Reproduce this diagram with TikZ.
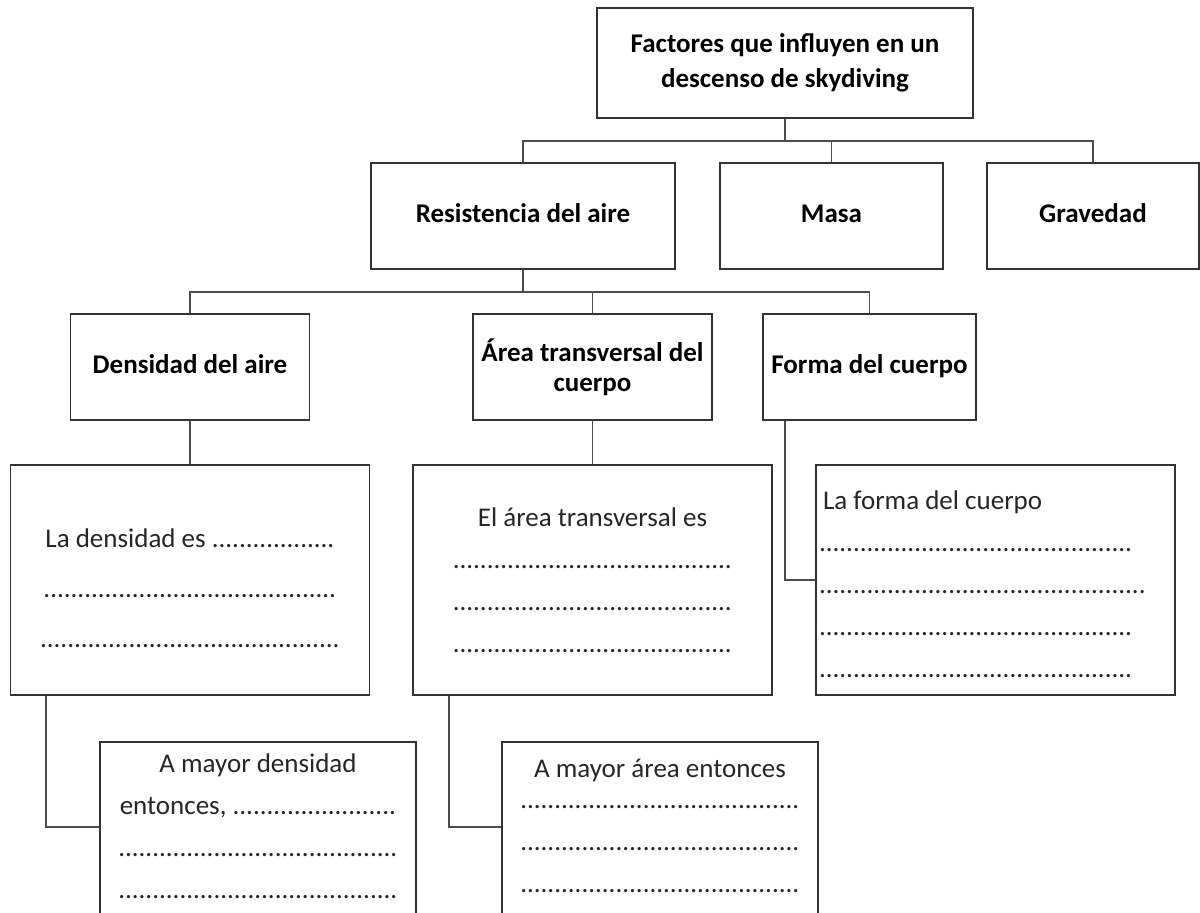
\documentclass[tikz,border=0pt]{standalone}
\usepackage{fontspec}
\setmainfont{Carlito}
\usetikzlibrary{calc}

% a row of dots for the blanks
\newcommand{\puntos}[1]{\foreach \i in {1,...,#1}{.}}

\begin{document}
\begin{tikzpicture}[
	x=0.5pt, y=-0.5pt,
	% Style for the heading boxes
	headbox/.style={
		draw=black!80, line width=0.8pt, text=black,
		font=\bfseries\fontsize{13.5}{17.5}\selectfont,
		align=center, inner sep=2pt, minimum height=53pt
	},
	% one-line headings share the same baseline
	oneline/.style={text height=9.5pt, text depth=2.5pt},
	% Style for the boxes with blanks to fill
	fillbox/.style={
		draw=black!80, line width=0.8pt, text=black!85,
		font=\fontsize{13.5}{21}\selectfont,
		align=center, inner sep=2pt, minimum width=179.5pt
	},
	% Connector lines
	link/.style={draw=black!70, line width=0.8pt}
	]
	
	\useasboundingbox (0,0) rectangle (1200,913);
	\clip (0,0) rectangle (1200,913);
	
	% ==============================================================================
	% TOP AND SECOND LEVEL
	% ==============================================================================
	\node[headbox, minimum width=188pt, minimum height=55pt] (top) at (785,63) {Factores que influyen en un\\descenso de skydiving};
	
	\node[headbox, oneline, minimum width=152pt] (res) at (523,216) {Resistencia del aire};
	\node[headbox, oneline, minimum width=111.5pt] (masa) at (831.5,216) {Masa};
	\node[headbox, oneline, minimum width=106pt] (grav) at (1093,216) {Gravedad};
	
	\coordinate (j1) at (785,141);
	\draw[link] (top.south) -- (j1);
	\draw[link] (res.north) |- (grav.north |- j1) -- (grav.north);
	\draw[link] (masa.north) -- (masa.north |- j1);
	
	% ==============================================================================
	% THIRD LEVEL: parts of the air resistance
	% ==============================================================================
	\node[headbox, oneline, minimum width=119.5pt] (dens) at (190,367) {Densidad del aire};
	\node[headbox, minimum width=119.5pt] (area) at (592.5,367) {Área transversal del\\[-2.5pt]cuerpo};
	\node[headbox, oneline, minimum width=106.5pt] (forma) at (869.5,367) {Forma del cuerpo};
	
	\coordinate (j2) at (523,292);
	\draw[link] (res.south) -- (j2);
	\draw[link] (dens.north) |- (forma.north |- j2) -- (forma.north);
	\draw[link] (area.north) -- (area.north |- j2);
	
	% ==============================================================================
	% BOXES TO FILL
	% ==============================================================================
	\node[fillbox, minimum height=115pt] (densT) at (190,580) {
		\rule{0pt}{17.5pt}La densidad es \puntos{18}\\[4pt]
		\puntos{43}\\[4pt]
		\puntos{44}
	};
	\node[fillbox, minimum height=115pt] (areaT) at (592.5,580) {
		El área transversal es\\
		\puntos{41}\\
		\puntos{41}\\
		\puntos{41}
	};
	\node[fillbox, minimum height=115pt, align=flush left, text width=176.5pt, inner xsep=1.5pt] (formaT) at (995.5,580) {
		\rule{0pt}{14pt}\hspace{2pt}La forma del cuerpo\\
		\puntos{46}\\
		\puntos{48}\\
		\puntos{46}\\
		\puntos{46}
	};
	
	\draw[link] (dens.south) -- (densT.north);
	\draw[link] (area.south) -- (areaT.north);
	\draw[link] ([xshift=11.5pt]forma.south west) |- (formaT.west);
	
	% lower boxes, cut by the page edge
	\node[fillbox, minimum width=158pt, anchor=north, inner ysep=6pt, text depth=110pt] (densF) at (258,741) {
		A mayor densidad\\
		entonces, \puntos{24}\\
		\puntos{41}\\
		\puntos{41}
	};
	\node[fillbox, minimum width=158pt, anchor=north, inner ysep=8.5pt, text depth=110pt] (areaF) at (660,741) {
		A mayor área entonces\\[-5.5pt]
		\puntos{41}\\
		\puntos{41}\\
		\puntos{41}
	};
	
	\draw[link] ([xshift=18pt]densT.south west) |- ([yshift=-43pt]densF.north west);
	\draw[link] ([xshift=18.5pt]areaT.south west) |- ([yshift=-43pt]areaF.north west);
	
\end{tikzpicture}
\end{document}
